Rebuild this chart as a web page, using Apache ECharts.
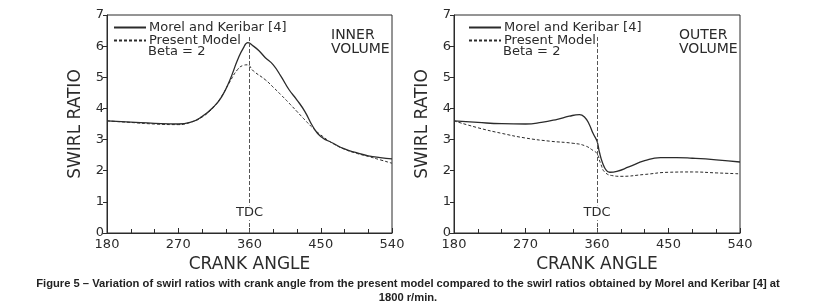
<!DOCTYPE html>
<html>
<head>
<meta charset="utf-8">
<script src="https://cdn.jsdelivr.net/npm/echarts@6/dist/echarts.min.js"></script>
<style>
  html, body { margin: 0; padding: 0; background: #fff; }
  #chart { width: 816px; height: 306px; }
</style>
</head>
<body>
<div id="chart"></div>
<script>
// crank angle ticks
const xTicks = [180, 270, 360, 450, 540]
const yTicks = [0, 1, 2, 3, 4, 5, 6, 7]

// inner volume - Morel and Keribar [4]
const innerMorelAngle = [180, 210, 240, 270, 285, 300, 315, 325, 335, 345, 352, 358, 365, 372, 380, 390, 400, 410, 420, 430, 440, 450, 465, 480, 495, 510, 525, 540]
const innerMorel = [3.6, 3.56, 3.52, 3.5, 3.55, 3.74, 4.06, 4.38, 4.9, 5.56, 5.93, 6.11, 6.0, 5.85, 5.63, 5.4, 5.02, 4.6, 4.27, 3.9, 3.42, 3.1, 2.89, 2.7, 2.58, 2.48, 2.42, 2.38]

// inner volume - present model
const innerModelAngle = [180, 210, 240, 270, 285, 300, 315, 325, 335, 345, 352, 357, 365, 380, 390, 400, 410, 420, 430, 440, 450, 465, 480, 495, 510, 525, 540]
const innerModel = [3.6, 3.55, 3.5, 3.48, 3.55, 3.72, 4.05, 4.4, 4.85, 5.25, 5.38, 5.4, 5.2, 4.92, 4.68, 4.43, 4.17, 3.9, 3.63, 3.37, 3.15, 2.88, 2.69, 2.56, 2.46, 2.35, 2.24]

// outer volume - Morel and Keribar [4]
const outerMorelAngle = [180, 210, 240, 270, 290, 310, 325, 338, 345, 350, 355, 360, 363, 367, 372, 376, 385, 400, 420, 440, 460, 480, 510, 540]
const outerMorel = [3.6, 3.55, 3.51, 3.5, 3.55, 3.65, 3.75, 3.8, 3.7, 3.5, 3.2, 2.95, 2.6, 2.25, 2.0, 1.95, 1.98, 2.12, 2.32, 2.42, 2.42, 2.4, 2.35, 2.28]

// outer volume - present model
const outerModelAngle = [180, 210, 240, 270, 300, 330, 345, 355, 360, 365, 370, 380, 390, 420, 450, 480, 510, 540]
const outerModel = [3.6, 3.38, 3.2, 3.05, 2.95, 2.88, 2.8, 2.65, 2.55, 2.2, 1.95, 1.84, 1.82, 1.88, 1.95, 1.96, 1.93, 1.9]

const nameMorel = 'Morel and Keribar [4]'
const nameModel = 'Present Model'
const ink = '#2b2b2b'
const font = 'DejaVu Sans'

function pairs(xs, ys) {
  return xs.map((x, i) => [x, ys[i]])
}

function xAxisOf(idx) {
  return {
    type: 'value',
    gridIndex: idx,
    min: xTicks[0],
    max: xTicks[xTicks.length - 1],
    interval: 90,
    name: 'CRANK ANGLE',
    nameLocation: 'middle',
    nameGap: 19,
    nameTextStyle: { fontFamily: font, fontSize: 17, color: ink },
    axisLine: { lineStyle: { color: ink, width: 1 } },
    axisTick: { inside: true, length: 5, lineStyle: { color: ink } },
    minorTick: { show: true, splitNumber: 3, length: 4, lineStyle: { color: ink } },
    axisLabel: { fontFamily: font, fontSize: 13, color: ink, margin: 5 },
    splitLine: { show: false }
  }
}

function yAxisOf(idx) {
  return {
    type: 'value',
    gridIndex: idx,
    min: yTicks[0],
    max: yTicks[yTicks.length - 1],
    interval: 1,
    name: 'SWIRL RATIO',
    nameLocation: 'middle',
    nameGap: 23,
    nameTextStyle: { fontFamily: font, fontSize: 17, color: ink },
    axisLine: { show: true, lineStyle: { color: ink, width: 1 } },
    axisTick: { show: true, length: 4, lineStyle: { color: ink } },
    axisLabel: { fontFamily: font, fontSize: 13, color: ink, margin: 3 },
    splitLine: { show: false }
  }
}

function lineSeries(name, idx, xs, ys, dashed) {
  return {
    name: name,
    type: 'line',
    xAxisIndex: idx,
    yAxisIndex: idx,
    data: pairs(xs, ys),
    symbol: 'none',
    smooth: true,
    lineStyle: { color: ink, width: dashed ? 1 : 1.3, type: dashed ? [3, 2] : 'solid' },
    itemStyle: { color: ink },
    silent: true
  }
}

function tdcLine(idx) {
  return {
    type: 'line',
    xAxisIndex: idx,
    yAxisIndex: idx,
    data: [],
    markLine: {
      silent: true,
      symbol: 'none',
      label: { show: false },
      lineStyle: { color: '#555', width: 1, type: [4, 2] },
      data: [[{ coord: [360, 0] }, { coord: [360, 6.35] }]]
    },
    markPoint: {
      silent: true,
      symbol: 'rect',
      symbolSize: [1, 1],
      itemStyle: { color: 'transparent' },
      label: {
        show: true,
        position: 'inside',
        formatter: 'TDC',
        fontFamily: font,
        fontSize: 13,
        color: ink,
        backgroundColor: '#fff',
        padding: [1, 1]
      },
      data: [{ coord: [360, 0.65] }]
    }
  }
}

function legendOf(left) {
  return {
    orient: 'vertical',
    left: left,
    top: 16,
    itemWidth: 32,
    itemHeight: 12,
    itemGap: 0,
    selectedMode: false,
    itemStyle: { opacity: 0 },
    textStyle: { fontFamily: font, fontSize: 13, lineHeight: 12, color: ink, padding: [0, 0, 0, -2] },
    data: [nameMorel, nameModel]
  }
}

const chart = echarts.init(document.getElementById('chart'))
const option = {
  backgroundColor: '#fff',
  animation: false,
  grid: [
    { left: 107, top: 15, width: 285, height: 218, show: true, borderColor: ink, borderWidth: 1, backgroundColor: 'transparent' },
    { left: 454, top: 15, width: 286, height: 218, show: true, borderColor: ink, borderWidth: 1, backgroundColor: 'transparent' }
  ],
  legend: [legendOf(108), legendOf(463)],
  xAxis: [xAxisOf(0), xAxisOf(1)],
  yAxis: [yAxisOf(0), yAxisOf(1)],
  series: [
    lineSeries(nameMorel, 0, innerMorelAngle, innerMorel, false),
    lineSeries(nameModel, 0, innerModelAngle, innerModel, true),
    lineSeries(nameMorel, 1, outerMorelAngle, outerMorel, false),
    lineSeries(nameModel, 1, outerModelAngle, outerModel, true),
    tdcLine(0),
    tdcLine(1)
  ],
  graphic: [
    { type: 'text', left: 148, top: 45, style: { text: 'Beta = 2', font: '13px "DejaVu Sans"', fill: ink } },
    { type: 'text', left: 503, top: 45, style: { text: 'Beta = 2', font: '13px "DejaVu Sans"', fill: ink } },
    { type: 'text', left: 331, top: 28, style: { text: 'INNER\nVOLUME', font: '14px "DejaVu Sans"', lineHeight: 14, fill: ink } },
    { type: 'text', left: 679, top: 28, style: { text: 'OUTER\nVOLUME', font: '14px "DejaVu Sans"', lineHeight: 14, fill: ink } },
    {
      type: 'text',
      x: 408,
      y: 277,
      style: {
        text: 'Figure 5 – Variation of swirl ratios with crank angle from the present model compared to the swirl ratios obtained by Morel and Keribar [4] at\n1800 r/min.',
        font: 'bold 11.2px "Liberation Sans"',
        lineHeight: 14,
        fill: '#222',
        align: 'center'
      }
    }
  ]
}
chart.setOption(option, true)
</script>
</body>
</html>
